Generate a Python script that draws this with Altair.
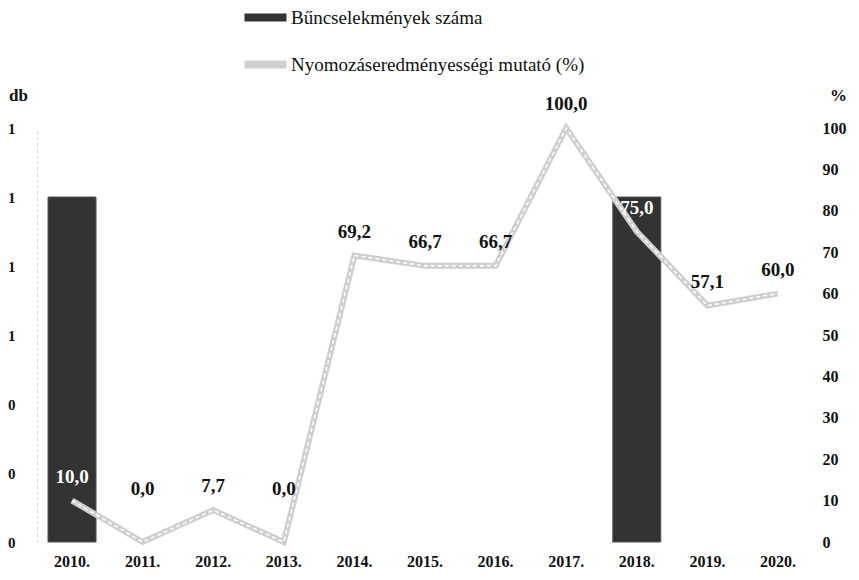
import altair as alt
import pandas as pd

years = ["2010.", "2011.", "2012.", "2013.", "2014.", "2015.", "2016.", "2017.", "2018.", "2019.", "2020."]
crimes = [1, 0, 0, 0, 0, 0, 0, 0, 1, 0, 0]
rate = [10.0, 0.0, 7.7, 0.0, 69.2, 66.7, 66.7, 100.0, 75.0, 57.1, 60.0]
left_ticks = [0, 0.2, 0.4, 0.6, 0.8, 1.0, 1.2]
right_ticks = [0, 10, 20, 30, 40, 50, 60, 70, 80, 90, 100]
s_bar = "Bűncselekmények száma"
s_line = "Nyomozáseredményességi mutató (%)"

df = pd.DataFrame({"year": years, "count": crimes, "pct": rate})
df["s_bar"] = s_bar
df["s_line"] = s_line

serif = "Liberation Serif"
sans = "Liberation Sans Narrow"

xenc = alt.X("year:O", sort=years, title=None,
             scale=alt.Scale(paddingInner=0.32, paddingOuter=0.156),
             axis=alt.Axis(labelAngle=0, labelFont=serif, labelFontWeight="bold",
                           labelFontSize=16, labelColor="#111", domain=False,
                           ticks=False, labelPadding=11))

color = alt.Color("series:N", title=None,
                  scale=alt.Scale(domain=[s_bar, s_line], range=["#333333", "#cfcfcf"]),
                  legend=alt.Legend(orient="none", legendX=218, legendY=-121,
                                    direction="vertical", labelFont=serif, labelFontSize=19,
                                    labelColor="#111", rowPadding=26, labelLimit=0,
                                    symbolType="M-2,-0.38H2V0.38H-2Z", symbolSize=441,
                                    symbolStrokeWidth=0, labelOffset=15))

bars = alt.Chart(df).transform_calculate(series="datum.s_bar").transform_filter(
    "datum.count > 0"
).mark_bar(stroke="#555", strokeWidth=1).encode(
    x=xenc,
    y=alt.Y("count:Q", scale=alt.Scale(domain=[0, 1.2], nice=False),
            axis=alt.Axis(values=left_ticks, labelExpr="'' + round(datum.value)",
                          title="db", titleAngle=0,
                          titleX=-19, titleY=-24, titleAlign="center", titleFont=sans,
                          titleFontSize=17, titleFontWeight="bold", titleColor="#111",
                          labelFont=sans, labelFontWeight="bold", labelFontSize=15,
                          labelColor="#111", labelPadding=22, ticks=False, grid=False,
                          labelOverlap=False,
                          domain=True, domainColor="#d8d8d8", domainDash=[3, 3])),
    color=color,
)

raxis = alt.Axis(values=right_ticks, title="%", titleAngle=0, orient="right",
                 titleX=25, titleY=-24, titleAlign="center", titleFont=sans,
                 titleFontSize=17, titleFontWeight="bold", titleColor="#111",
                 labelFont=sans, labelFontWeight="bold", labelFontSize=16,
                 labelColor="#111", labelPadding=9, ticks=False, grid=False,
                 labelOverlap=False, domain=False)
rscale = alt.Scale(domain=[0, 100], nice=False)

line = alt.Chart(df).transform_calculate(series="datum.s_line").mark_line(
    strokeWidth=6
).encode(x=xenc, y=alt.Y("pct:Q", scale=rscale, axis=raxis), color=color)

line_inner = alt.Chart(df).mark_line(
    strokeWidth=1.5, color="#ffffff", strokeDash=[4, 3]
).encode(x=xenc, y=alt.Y("pct:Q", scale=rscale, axis=raxis))

labels = alt.Chart(df).transform_calculate(
    lbl="replace(format(datum.pct, '.1f'), '.', ',')",
    ly="max(datum.pct, 7)"
).mark_text(
    font=serif, fontWeight="bold", fontSize=19, dy=-24
).encode(
    x=xenc,
    y=alt.Y("ly:Q", scale=rscale, axis=raxis),
    text="lbl:N",
    color=alt.condition("datum.count > 0", alt.value("#ffffff"), alt.value("#111111")),
)

right_layer = alt.layer(line, line_inner, labels)

chart = alt.layer(bars, right_layer).resolve_scale(y="independent").properties(
    width=776, height=414,
    autosize=alt.AutoSizeParams(type="none"),
    padding={"left": 29, "top": 120, "right": 38, "bottom": 30},
    view=alt.ViewBackground(strokeOpacity=0, strokeWidth=0),
).configure_view(strokeOpacity=0, strokeWidth=0).configure_axis(grid=False).configure(background="white")

chart.save("out.html", embed_options={"renderer": "svg", "actions": False})
